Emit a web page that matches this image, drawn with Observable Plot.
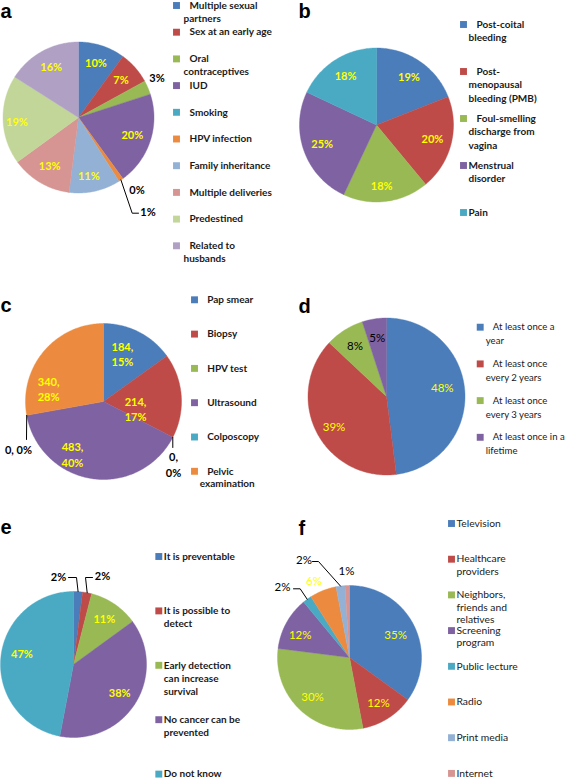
<!DOCTYPE html>
<html><head><meta charset="utf-8">
<script src="https://cdn.jsdelivr.net/npm/d3@7"></script>
<script src="https://cdn.jsdelivr.net/npm/@observablehq/plot@0.6"></script>
<style>html,body{margin:0;padding:0;background:#fff;} #chart svg{display:block}</style>
</head><body><div id="chart"></div>
<script>
// ---------- data ----------
const aLabels = ["Multiple sexual\npartners", "Sex at an early age", "Oral\ncontraceptives", "IUD", "Smoking", "HPV infection", "Family inheritance", "Multiple deliveries", "Predestined", "Related to\nhusbands"];
const aValues = [10, 7, 3, 20, 0, 1, 11, 13, 19, 16];

const bLabels = ["Post-coital\nbleeding", "Post-\nmenopausal\nbleeding (PMB)", "Foul-smelling\ndischarge from\nvagina", "Menstrual\ndisorder", "Pain"];
const bValues = [19, 20, 18, 25, 18];

const cLabels = ["Pap smear", "Biopsy", "HPV test", "Ultrasound", "Colposcopy", "Pelvic\nexamination"];
const cCounts = [184, 214, 0, 483, 0, 340];
const cPercents = [15, 17, 0, 40, 0, 28];

const dLabels = ["At least once a\nyear", "At least once\nevery 2 years", "At least once\nevery 3 years", "At least once in a\nlifetime"];
const dValues = [48, 39, 8, 5];

const eLabels = ["It is preventable", "It is possible to\ndetect", "Early detection\ncan increase\nsurvival", "No cancer can be\nprevented", "Do not know"];
const eValues = [2, 2, 11, 38, 47];

const fLabels = ["Television", "Healthcare\nproviders", "Neighbors,\nfriends and\nrelatives", "Screening\nprogram", "Public lecture", "Radio", "Print media", "Internet"];
const fValues = [35, 12, 30, 12, 2, 6, 2, 1];

// ---------- styles / layout ----------
const BLUE="#4A7DBA", RED="#BE4B48", GREEN="#98B954", PURPLE="#7E62A1", AQUA="#4AAAC4", ORANGE="#EC8B3F",
      LBLUE="#93B1D5", LRED="#D69592", LGREEN="#C2D69A", LPURPLE="#AFA0C4";
const YEL = "#FFFF00";
const FONT = "Lato, 'Open Sans', sans-serif";

const panels = [
  {letter:"a", labels:aLabels, values:aValues, texts:aValues.map(v => v + "%"),
   colors:[BLUE,RED,GREEN,PURPLE,AQUA,ORANGE,LBLUE,LRED,LGREEN,LPURPLE],
   cx:78, cy:117, r:75.5, lx:0, ly:11,
   leg:{sq:176, tx:183, indent:6, indentN:10, y0:5, step:26.7, lh:13.3, size:10, weight:"bold"},
   lab:{f:0.75, size:11, weight:"bold", lh:15, nudge:{6:[-2,4], 8:[-5,3]}, dark:[],
        outside:{2:{x:156.5,y:78}, 4:{x:136.5,y:190}, 5:{x:147.5,y:212, leader:[[131.7,212.7],[138,212.7]]}}}},
  {letter:"b", labels:bLabels, values:bValues, texts:bValues.map(v => v + "%"),
   colors:[BLUE,RED,GREEN,PURPLE,AQUA],
   cx:376, cy:124.5, r:77, lx:298, ly:10.7,
   leg:{sq:463, tx:468, indent:8, indentN:3, y0:24, step:47, lh:13.5, size:10, weight:"bold"},
   lab:{f:0.75, size:11, weight:"bold", lh:15, nudge:{2:[-2,4]}, dark:[], outside:{}}},
  {letter:"c", labels:cLabels, values:cCounts, texts:cCounts.map((v,i) => v + ",\n" + cPercents[i] + "%"),
   colors:[BLUE,RED,GREEN,PURPLE,AQUA,ORANGE],
   cx:103, cy:401, r:78, lx:0, ly:305,
   leg:{sq:194, tx:199.3, indent:7.4, indentN:6, y0:299.3, step:34.3, lh:12.6, size:10, weight:"bold"},
   lab:{f:0.75, size:11, weight:"bold", lh:15.5, nudge:{0:[-7.7,5.6], 1:[-26.3,12.8], 3:[-22.3,-3.9], 5:[-10,26]}, dark:[],
        outside:{2:{x:173,y:456.7, leader:[[172.3,447]]}, 4:{x:18,y:450, single:true, leader:[[26,439]]}}}},
  {letter:"d", labels:dLabels, values:dValues, texts:dValues.map(v => v + "%"),
   colors:[BLUE,RED,GREEN,PURPLE],
   cx:386, cy:396, r:78.5, lx:298, ly:305.7,
   leg:{sq:479.7, tx:485.3, indent:7, indentN:4, y0:326.7, step:36.7, lh:14, size:9.6, weight:"normal"},
   lab:{f:0.75, size:11.5, weight:"normal", lh:15, nudge:{0:[-3,-4], 1:[0,4]}, dark:[2,3], outside:{}}},
  {letter:"e", labels:eLabels, values:eValues, texts:eValues.map(v => v + "%"),
   colors:[BLUE,RED,GREEN,PURPLE,AQUA],
   cx:73, cy:664, r:73, lx:0, ly:527,
   leg:{sq:158.3, tx:163.3, indent:0, indentN:0, y0:556, step:54.4, lh:13, size:10, weight:"bold"},
   lab:{f:0.75, size:11, weight:"bold", lh:15, nudge:{4:[3,-5]}, dark:[],
        outside:{0:{x:58,y:577, leader:[[76,577],[68,577]]}, 1:{x:102,y:576, leader:[[85,577],[92,577]]}}}},
  {letter:"f", labels:fLabels, values:fValues, texts:fValues.map(v => v + "%"),
   colors:[BLUE,RED,GREEN,PURPLE,AQUA,ORANGE,LBLUE,LRED],
   cx:349, cy:657, r:72, lx:298, ly:528,
   leg:{sq:451, tx:456, indent:0, indentN:0, y0:523, step:35.7, lh:12.5, size:10.3, weight:"normal"},
   lab:{f:0.75, size:11.5, weight:"normal", lh:15, nudge:{0:[-2,2], 3:[-2,4]}, dark:[],
        outside:{4:{x:282,y:587, dark:true, leader:[[299.7,588.3],[293,588.3]]},
                 5:{x:313.5,y:580.7},
                 6:{x:303.5,y:560, dark:true, leader:[[318,561],[312,561]]},
                 7:{x:346,y:571, dark:true}}}}
];

// ---------- derived mark data ----------
const slicePts = [], legSquares = [], leaders = [];
const marks = [];

panels.forEach(p => {
  const arcs = d3.pie().sort(null).value(d => d)(p.values);
  const edge = (a, rr) => [p.cx + rr * Math.sin(a), p.cy - rr * Math.cos(a)];
  arcs.forEach((a, i) => {
    const key = p.letter + i;
    const span = a.endAngle - a.startAngle;
    if (span > 0) {
      const n = Math.max(2, Math.ceil(span / (Math.PI / 180)));
      slicePts.push({key, x:p.cx, y:p.cy, color:p.colors[i]});
      for (let k = 0; k <= n; k++) {
        const [x, y] = edge(a.startAngle + span * k / n, p.r);
        slicePts.push({key, x, y, color:p.colors[i]});
      }
      slicePts.push({key, x:p.cx, y:p.cy, color:p.colors[i]});
    }
  });

  // pie labels
  const labTexts = [];
  arcs.forEach((a, i) => {
    const mid = (a.startAngle + a.endAngle) / 2;
    const out = p.lab.outside[i];
    let x, y, fill;
    if (out) {
      x = out.x; y = out.y;
      fill = (p.letter === "f" && !out.dark) ? YEL : "black";
      if (out.leader) {
        const pts = [edge(mid, p.r), ...out.leader];
        pts.forEach(([lx, ly]) => leaders.push({key:p.letter + i, x:lx, y:ly}));
      }
      const lines = out.single ? [p.texts[i].replace("\n", " ")] : p.texts[i].split("\n");
      lines.forEach((t, j) => labTexts.push({x, y:y + j * 16, text:t, fill}));
    } else {
      [x, y] = edge(mid, p.r * p.lab.f);
      const nd = p.lab.nudge[i] || [0, 0];
      x += nd[0]; y += nd[1];
      fill = p.lab.dark.includes(i) ? "black" : YEL;
      const lines = p.texts[i].split("\n");
      const y0 = y - (lines.length - 1) * p.lab.lh / 2;
      lines.forEach((t, j) => labTexts.push({x, y:y0 + j * p.lab.lh, text:t, fill}));
    }
  });

  // legend
  const legTexts = [];
  p.labels.forEach((lab, i) => {
    const yy = p.leg.y0 + i * p.leg.step;
    legSquares.push({x:p.leg.sq, y:yy, color:p.colors[i]});
    lab.split("\n").forEach((t, j) => {
      legTexts.push({x:p.leg.tx + (j === 0 && i < p.leg.indentN ? p.leg.indent : 0), y:yy + j * p.leg.lh, text:t});
    });
  });

  marks.push(Plot.text(legTexts, {x:"x", y:"y", text:"text", textAnchor:"start", fill:"#1a1a1a",
    fontSize:p.leg.size, fontWeight:p.leg.weight, fontFamily:FONT}));
  marks.push(Plot.text(labTexts, {x:"x", y:"y", text:"text", fill:"fill", textAnchor:"middle",
    fontSize:p.lab.size, fontWeight:p.lab.weight, fontFamily:FONT}));
  marks.push(Plot.text([p.letter], {x:() => p.lx, y:() => p.ly, text:d => d, textAnchor:"start",
    fontSize:20, fontWeight:"bold", fontFamily:"'Liberation Sans', Arial, sans-serif", fill:"black"}));
});

const chart = Plot.plot({
  width:567, height:780, margin:0,
  x:{domain:[0,567], range:[0,567], axis:null},
  y:{domain:[0,780], range:[0,780], axis:null},
  style:{background:"white"},
  marks:[
    Plot.line(slicePts, {x:"x", y:"y", z:"key", fill:"color", stroke:"color", strokeWidth:0.4, curve:"linear"}),
    Plot.line(leaders, {x:"x", y:"y", z:"key", stroke:"black", strokeWidth:1, curve:"linear"}),
    Plot.dot(legSquares, {x:"x", y:"y", fill:"color", symbol:"square", r:3.9}),
    ...marks
  ]
});
document.getElementById("chart").appendChild(chart);
</script>
</body></html>
